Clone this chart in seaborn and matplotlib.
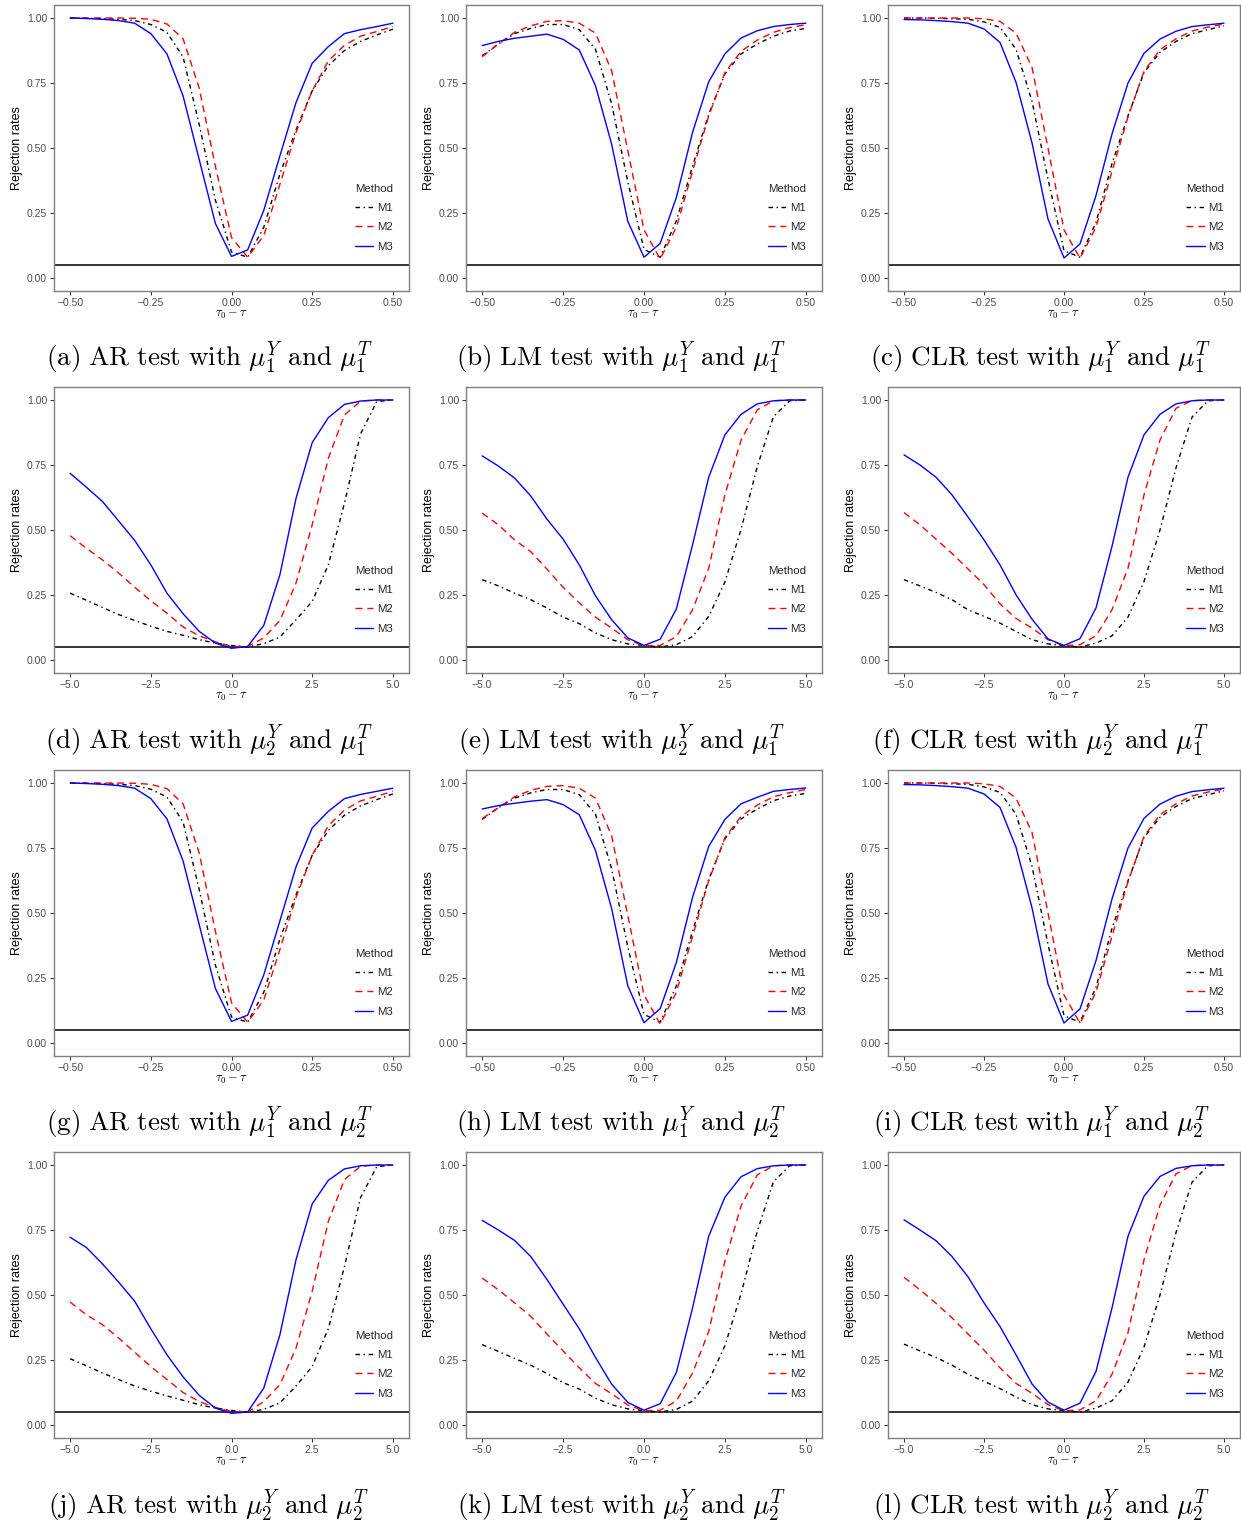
import matplotlib
matplotlib.use("Agg")
import matplotlib.pyplot as plt
import pandas as pd
import seaborn as sns
from matplotlib.ticker import FixedLocator, FuncFormatter

sns.set_theme(style="white")
plt.rcParams['font.family'] = ['Liberation Sans', 'DejaVu Sans']
plt.rcParams['mathtext.fontset'] = 'cm'

# ---------------- data ----------------
X_NARROW = [-0.50, -0.45, -0.40, -0.35, -0.30, -0.25, -0.20, -0.15, -0.10, -0.05, 0.00,
            0.05, 0.10, 0.15, 0.20, 0.25, 0.30, 0.35, 0.40, 0.45, 0.50]
X_WIDE = [-5.0, -4.5, -4.0, -3.5, -3.0, -2.5, -2.0, -1.5, -1.0, -0.5, 0.0,
          0.5, 1.0, 1.5, 2.0, 2.5, 3.0, 3.5, 4.0, 4.5, 5.0]
TICKS_NARROW = [-0.50, -0.25, 0.00, 0.25, 0.50]
TICKS_WIDE = [-5.0, -2.5, 0.0, 2.5, 5.0]
Y_TICKS = [0.00, 0.25, 0.50, 0.75, 1.00]
METHODS = ["M1", "M2", "M3"]
NOMINAL = 0.05

a_M1 = [1.000, 0.999, 0.998, 0.995, 0.990, 0.975, 0.945, 0.850, 0.590, 0.300, 0.100, 0.080, 0.195, 0.400, 0.570, 0.720, 0.817, 0.875, 0.910, 0.935, 0.957]
a_M2 = [1.000, 1.000, 1.000, 1.000, 0.999, 0.995, 0.977, 0.920, 0.730, 0.430, 0.156, 0.080, 0.163, 0.360, 0.560, 0.720, 0.835, 0.895, 0.930, 0.948, 0.967]
a_M3 = [1.000, 0.998, 0.995, 0.990, 0.980, 0.940, 0.862, 0.700, 0.455, 0.210, 0.083, 0.108, 0.260, 0.470, 0.675, 0.826, 0.890, 0.940, 0.955, 0.967, 0.980]

b_M1 = [0.855, 0.900, 0.940, 0.960, 0.975, 0.975, 0.955, 0.880, 0.670, 0.370, 0.110, 0.080, 0.220, 0.430, 0.630, 0.785, 0.862, 0.900, 0.930, 0.950, 0.960]
b_M2 = [0.851, 0.900, 0.945, 0.970, 0.987, 0.990, 0.980, 0.942, 0.797, 0.490, 0.185, 0.073, 0.195, 0.410, 0.624, 0.790, 0.872, 0.915, 0.945, 0.963, 0.974]
b_M3 = [0.894, 0.910, 0.922, 0.930, 0.938, 0.918, 0.877, 0.740, 0.515, 0.218, 0.080, 0.133, 0.310, 0.560, 0.755, 0.862, 0.923, 0.951, 0.967, 0.975, 0.980]

c_M1 = [1.000, 1.000, 0.999, 0.997, 0.995, 0.985, 0.964, 0.880, 0.680, 0.380, 0.105, 0.080, 0.214, 0.440, 0.624, 0.790, 0.868, 0.910, 0.940, 0.955, 0.970]
c_M2 = [1.000, 1.000, 1.000, 1.000, 1.000, 0.997, 0.987, 0.942, 0.810, 0.500, 0.185, 0.076, 0.195, 0.410, 0.620, 0.795, 0.878, 0.920, 0.950, 0.965, 0.977]
c_M3 = [0.994, 0.993, 0.990, 0.986, 0.980, 0.958, 0.906, 0.753, 0.520, 0.227, 0.077, 0.131, 0.317, 0.554, 0.750, 0.864, 0.919, 0.949, 0.967, 0.974, 0.980]

d_M1 = [0.257, 0.230, 0.202, 0.175, 0.152, 0.130, 0.110, 0.095, 0.078, 0.065, 0.056, 0.050, 0.063, 0.088, 0.155, 0.225, 0.366, 0.603, 0.870, 0.994, 1.000]
d_M2 = [0.478, 0.430, 0.385, 0.335, 0.280, 0.228, 0.180, 0.127, 0.093, 0.070, 0.052, 0.052, 0.085, 0.152, 0.296, 0.520, 0.776, 0.942, 0.996, 1.000, 1.000]
d_M3 = [0.718, 0.665, 0.610, 0.535, 0.460, 0.366, 0.257, 0.178, 0.110, 0.065, 0.045, 0.052, 0.133, 0.328, 0.622, 0.836, 0.932, 0.983, 0.996, 1.000, 1.000]

e_M1 = [0.309, 0.285, 0.257, 0.232, 0.200, 0.165, 0.140, 0.104, 0.078, 0.062, 0.056, 0.050, 0.059, 0.090, 0.168, 0.300, 0.503, 0.744, 0.936, 0.997, 1.000]
e_M2 = [0.565, 0.520, 0.462, 0.417, 0.350, 0.280, 0.220, 0.165, 0.123, 0.078, 0.055, 0.056, 0.090, 0.193, 0.353, 0.635, 0.846, 0.962, 0.997, 1.000, 1.000]
e_M3 = [0.785, 0.746, 0.700, 0.631, 0.542, 0.465, 0.366, 0.247, 0.155, 0.085, 0.056, 0.080, 0.196, 0.443, 0.703, 0.866, 0.945, 0.985, 0.997, 1.000, 1.000]

f_M1 = [0.309, 0.285, 0.260, 0.232, 0.193, 0.168, 0.142, 0.110, 0.078, 0.062, 0.055, 0.050, 0.065, 0.093, 0.165, 0.302, 0.500, 0.739, 0.934, 0.997, 1.000]
f_M2 = [0.567, 0.520, 0.465, 0.410, 0.350, 0.290, 0.216, 0.160, 0.123, 0.078, 0.055, 0.059, 0.093, 0.193, 0.353, 0.635, 0.846, 0.968, 0.998, 1.000, 1.000]
f_M3 = [0.789, 0.750, 0.703, 0.635, 0.550, 0.462, 0.366, 0.251, 0.157, 0.081, 0.056, 0.082, 0.200, 0.437, 0.703, 0.866, 0.945, 0.985, 0.997, 1.000, 1.000]

g_M1 = [1.000, 0.999, 0.998, 0.995, 0.990, 0.976, 0.946, 0.850, 0.590, 0.300, 0.100, 0.080, 0.195, 0.400, 0.570, 0.722, 0.818, 0.876, 0.912, 0.936, 0.958]
g_M2 = [1.000, 1.000, 1.000, 1.000, 0.999, 0.995, 0.978, 0.920, 0.730, 0.430, 0.155, 0.080, 0.165, 0.360, 0.560, 0.722, 0.836, 0.896, 0.931, 0.949, 0.968]
g_M3 = [1.000, 0.998, 0.995, 0.990, 0.980, 0.940, 0.862, 0.700, 0.455, 0.210, 0.083, 0.107, 0.262, 0.470, 0.678, 0.827, 0.891, 0.940, 0.956, 0.968, 0.980]

h_M1 = [0.860, 0.905, 0.942, 0.962, 0.975, 0.975, 0.955, 0.880, 0.670, 0.370, 0.110, 0.080, 0.220, 0.430, 0.630, 0.785, 0.862, 0.900, 0.932, 0.950, 0.960]
h_M2 = [0.863, 0.905, 0.947, 0.972, 0.987, 0.990, 0.980, 0.942, 0.797, 0.490, 0.185, 0.073, 0.195, 0.410, 0.624, 0.790, 0.872, 0.915, 0.947, 0.963, 0.975]
h_M3 = [0.900, 0.913, 0.922, 0.930, 0.936, 0.917, 0.878, 0.741, 0.517, 0.220, 0.078, 0.132, 0.310, 0.560, 0.756, 0.860, 0.920, 0.945, 0.968, 0.975, 0.981]

i_M1 = [1.000, 1.000, 0.999, 0.997, 0.995, 0.985, 0.964, 0.880, 0.680, 0.380, 0.105, 0.080, 0.214, 0.440, 0.624, 0.790, 0.868, 0.910, 0.940, 0.955, 0.970]
i_M2 = [1.000, 1.000, 1.000, 1.000, 1.000, 0.997, 0.987, 0.942, 0.810, 0.500, 0.185, 0.076, 0.195, 0.410, 0.620, 0.795, 0.878, 0.920, 0.950, 0.965, 0.977]
i_M3 = [0.994, 0.993, 0.990, 0.986, 0.980, 0.958, 0.906, 0.753, 0.520, 0.227, 0.077, 0.131, 0.317, 0.554, 0.750, 0.864, 0.919, 0.949, 0.967, 0.974, 0.980]

j_M1 = [0.255, 0.228, 0.200, 0.175, 0.150, 0.130, 0.112, 0.095, 0.078, 0.065, 0.056, 0.050, 0.060, 0.085, 0.150, 0.225, 0.370, 0.610, 0.875, 0.993, 1.000]
j_M2 = [0.473, 0.424, 0.386, 0.335, 0.280, 0.225, 0.175, 0.125, 0.090, 0.068, 0.052, 0.050, 0.090, 0.155, 0.296, 0.514, 0.783, 0.944, 0.995, 1.000, 1.000]
j_M3 = [0.722, 0.683, 0.620, 0.550, 0.476, 0.370, 0.270, 0.185, 0.114, 0.065, 0.045, 0.050, 0.142, 0.347, 0.636, 0.850, 0.941, 0.985, 0.997, 1.000, 1.000]

k_M1 = [0.309, 0.283, 0.256, 0.230, 0.198, 0.163, 0.138, 0.103, 0.078, 0.062, 0.055, 0.050, 0.060, 0.092, 0.170, 0.305, 0.505, 0.745, 0.936, 0.997, 1.000]
k_M2 = [0.565, 0.520, 0.470, 0.418, 0.350, 0.285, 0.220, 0.160, 0.120, 0.077, 0.055, 0.057, 0.092, 0.200, 0.360, 0.630, 0.843, 0.962, 0.997, 1.000, 1.000]
k_M3 = [0.787, 0.750, 0.710, 0.648, 0.560, 0.465, 0.370, 0.260, 0.157, 0.087, 0.057, 0.082, 0.202, 0.450, 0.726, 0.876, 0.955, 0.986, 0.997, 1.000, 1.000]

l_M1 = [0.311, 0.285, 0.260, 0.230, 0.195, 0.168, 0.140, 0.108, 0.078, 0.062, 0.055, 0.050, 0.065, 0.093, 0.165, 0.300, 0.500, 0.740, 0.934, 0.997, 1.000]
l_M2 = [0.568, 0.520, 0.468, 0.412, 0.350, 0.288, 0.220, 0.160, 0.122, 0.078, 0.055, 0.058, 0.093, 0.195, 0.355, 0.635, 0.846, 0.966, 0.998, 1.000, 1.000]
l_M3 = [0.789, 0.750, 0.709, 0.648, 0.570, 0.470, 0.379, 0.270, 0.158, 0.088, 0.057, 0.084, 0.206, 0.450, 0.726, 0.880, 0.956, 0.987, 0.997, 1.000, 1.000]

# letter, test, Y index, T index, series
PANELS = [
    ("a", "AR", 1, 1, (a_M1, a_M2, a_M3)),
    ("b", "LM", 1, 1, (b_M1, b_M2, b_M3)),
    ("c", "CLR", 1, 1, (c_M1, c_M2, c_M3)),
    ("d", "AR", 2, 1, (d_M1, d_M2, d_M3)),
    ("e", "LM", 2, 1, (e_M1, e_M2, e_M3)),
    ("f", "CLR", 2, 1, (f_M1, f_M2, f_M3)),
    ("g", "AR", 1, 2, (g_M1, g_M2, g_M3)),
    ("h", "LM", 1, 2, (h_M1, h_M2, h_M3)),
    ("i", "CLR", 1, 2, (i_M1, i_M2, i_M3)),
    ("j", "AR", 2, 2, (j_M1, j_M2, j_M3)),
    ("k", "LM", 2, 2, (k_M1, k_M2, k_M3)),
    ("l", "CLR", 2, 2, (l_M1, l_M2, l_M3)),
]

# ---------------- style / layout ----------------
W, H = 1241, 1524
PALETTE = {"M1": "#000000", "M2": "#FF0000", "M3": "#0000FF"}
DASHES = {"M1": (3.2, 2.6, 1.0, 2.6), "M2": (5.0, 3.5), "M3": ""}
LW = 1.0
COL_X = [(54, 409), (466, 822), (888, 1240)]
ROW_Y = [(5, 291), (387, 673), (770, 1056), (1152, 1438)]
CAP_X = [209, 621, 1041]
CAP_Y = [358, 741, 1123, 1506]
BORDER = "#7F7F7F"
TICKCOL = "#4D4D4D"


def fmt(decimals):
    def f(v, pos):
        s = f"{abs(v):.{decimals}f}"
        return ("\u2212" + s) if v < -1e-12 else s
    return FuncFormatter(f)


fig = plt.figure(figsize=(W / 100, H / 100), dpi=100)
fig.patch.set_facecolor("white")

for idx, (letter, test, yi, ti, series) in enumerate(PANELS):
    r, c = divmod(idx, 3)
    x0, x1 = COL_X[c]
    y0, y1 = ROW_Y[r]
    ax = fig.add_axes([x0 / W, 1 - y1 / H, (x1 - x0) / W, (y1 - y0) / H])
    wide = (r % 2 == 1)
    xs = X_WIDE if wide else X_NARROW
    df = pd.DataFrame({
        "tau": xs * 3,
        "rate": list(series[0]) + list(series[1]) + list(series[2]),
        "Method": [m for m in METHODS for _ in xs],
    })
    ax.axhline(NOMINAL, color="black", lw=1.1, zorder=1)
    sns.lineplot(data=df, x="tau", y="rate", hue="Method", style="Method",
                 palette=PALETTE, dashes=DASHES, linewidth=LW, ax=ax,
                 estimator=None, sort=False, legend=True, zorder=2)
    span = 10.0 if wide else 1.0
    lo = -5.0 if wide else -0.5
    ax.set_xlim(lo - 0.05 * span, lo + span + 0.05 * span)
    ax.set_ylim(-0.05, 1.05)
    ax.xaxis.set_major_locator(FixedLocator(TICKS_WIDE if wide else TICKS_NARROW))
    ax.xaxis.set_major_formatter(fmt(1 if wide else 2))
    ax.yaxis.set_major_locator(FixedLocator(Y_TICKS))
    ax.yaxis.set_major_formatter(fmt(2))
    ax.tick_params(axis="both", which="major", direction="out", length=3, width=0.7,
                   color="#333333", labelcolor=TICKCOL, labelsize=7.5, pad=2,
                   bottom=True, left=True)
    ax.grid(False)
    for sp in ax.spines.values():
        sp.set_visible(True)
        sp.set_color(BORDER)
        sp.set_linewidth(1.0)
    ax.set_facecolor("white")
    ax.set_xlabel(r"$\tau_0 - \tau$", fontsize=9, color="black")
    ax.xaxis.set_label_coords(0.5, -0.062)
    ax.set_ylabel("Rejection rates", fontsize=9, color="black")
    ax.yaxis.set_label_coords(-0.087, 0.5)

    handles, labels = ax.get_legend_handles_labels()
    leg = ax.legend(handles, labels, title="Method", loc="lower right",
                    bbox_to_anchor=(0.978, 0.11), frameon=False, fontsize=8.2,
                    title_fontsize=8.2, handlelength=1.6, handletextpad=0.35,
                    labelspacing=0.8, borderaxespad=0.3)
    leg._legend_box.align = "left"

    cap = (r"$\mathrm{(" + letter + r")\ " + test + r"\ test\ with\ }\mu_{" + str(yi)
           + r"}^{Y}\mathrm{\ and\ }\mu_{" + str(ti) + r"}^{T}$")
    fig.text(CAP_X[c] / W, 1 - CAP_Y[r] / H, cap, ha="center", va="center",
             fontsize=19.5, color="black")

fig.savefig("out.png", dpi=100, facecolor="white")
